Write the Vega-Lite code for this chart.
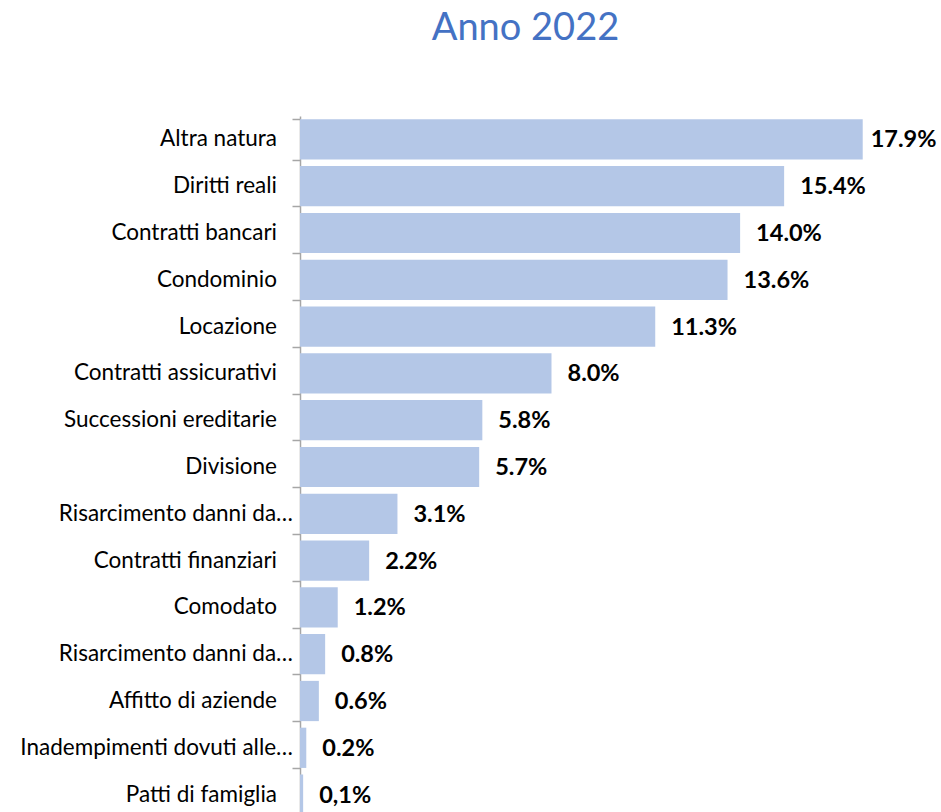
{
  "$schema": "https://vega.github.io/schema/vega-lite/v6.json",
  "autosize": {"type": "none"},
  "padding": {"left": 300, "top": 116, "right": 0, "bottom": 0},
  "width": 641,
  "height": 702,
  "background": "white",
  "title": {
    "text": "Anno 2022",
    "font": "Lato",
    "fontSize": 38,
    "fontWeight": "normal",
    "color": "#4472C4",
    "anchor": "middle",
    "offset": 68,
    "dx": -95
  },
  "data": {
    "values": [
      {"categoria": "Altra natura", "nome": "Altra natura", "troncato": false, "quota": 17.9, "etichetta": "17.9%"},
      {"categoria": "Diritti reali", "nome": "Diritti reali", "troncato": false, "quota": 15.4, "etichetta": "15.4%"},
      {"categoria": "Contratti bancari", "nome": "Contratti bancari", "troncato": false, "quota": 14.0, "etichetta": "14.0%"},
      {"categoria": "Condominio", "nome": "Condominio", "troncato": false, "quota": 13.6, "etichetta": "13.6%"},
      {"categoria": "Locazione", "nome": "Locazione", "troncato": false, "quota": 11.3, "etichetta": "11.3%"},
      {"categoria": "Contratti assicurativi", "nome": "Contratti assicurativi", "troncato": false, "quota": 8.0, "etichetta": "8.0%"},
      {"categoria": "Successioni ereditarie", "nome": "Successioni ereditarie", "troncato": false, "quota": 5.8, "etichetta": "5.8%"},
      {"categoria": "Divisione", "nome": "Divisione", "troncato": false, "quota": 5.7, "etichetta": "5.7%"},
      {"categoria": "Risarcimento danni da responsabilità medica", "nome": "Risarcimento danni da…", "troncato": true, "quota": 3.1, "etichetta": "3.1%"},
      {"categoria": "Contratti finanziari", "nome": "Contratti finanziari", "troncato": false, "quota": 2.2, "etichetta": "2.2%"},
      {"categoria": "Comodato", "nome": "Comodato", "troncato": false, "quota": 1.2, "etichetta": "1.2%"},
      {"categoria": "Risarcimento danni da diffamazione a mezzo stampa", "nome": "Risarcimento danni da…", "troncato": true, "quota": 0.8, "etichetta": "0.8%"},
      {"categoria": "Affitto di aziende", "nome": "Affitto di aziende", "troncato": false, "quota": 0.6, "etichetta": "0.6%"},
      {"categoria": "Inadempimenti dovuti alle misure Covid-19", "nome": "Inadempimenti dovuti alle…", "troncato": true, "quota": 0.2, "etichetta": "0.2%"},
      {"categoria": "Patti di famiglia", "nome": "Patti di famiglia", "troncato": false, "quota": 0.1, "etichetta": "0,1%"}
    ]
  },
  "encoding": {
    "y": {
      "field": "categoria",
      "type": "nominal",
      "sort": null,
      "scale": {"paddingInner": 0.14, "paddingOuter": 0.07},
      "axis": {
        "title": null,
        "labels": false,
        "domainColor": "#A6A6A6",
        "domainWidth": 1.5,
        "tickColor": "#A6A6A6",
        "tickWidth": 1.5,
        "tickSize": 8,
        "tickBand": "extent"
      }
    },
    "x": {
      "field": "quota",
      "type": "quantitative",
      "scale": {"domain": [0, 20.39], "nice": false},
      "axis": null
    }
  },
  "layer": [
    {
      "mark": {"type": "bar", "color": "#B4C7E7"}
    },
    {
      "transform": [{"filter": "!datum.troncato"}],
      "mark": {
        "type": "text",
        "align": "right",
        "baseline": "middle",
        "dx": -23,
        "font": "Lato",
        "fontSize": 22.5,
        "color": "#000000"
      },
      "encoding": {
        "x": {"datum": 0, "type": "quantitative"},
        "text": {"field": "nome"}
      }
    },
    {
      "transform": [{"filter": "datum.troncato"}],
      "mark": {
        "type": "text",
        "align": "right",
        "baseline": "middle",
        "dx": -7,
        "font": "Lato",
        "fontSize": 22.5,
        "color": "#000000"
      },
      "encoding": {
        "x": {"datum": 0, "type": "quantitative"},
        "text": {"field": "nome"}
      }
    },
    {
      "transform": [{"filter": "datum.quota < 17"}],
      "mark": {
        "type": "text",
        "align": "left",
        "baseline": "middle",
        "dx": 16,
        "dy": 1,
        "font": "Lato",
        "fontSize": 23.5,
        "fontWeight": "bold",
        "color": "#000000"
      },
      "encoding": {"text": {"field": "etichetta"}}
    },
    {
      "transform": [{"filter": "datum.quota >= 17"}],
      "mark": {
        "type": "text",
        "align": "left",
        "baseline": "middle",
        "dx": 8,
        "dy": 1,
        "font": "Lato",
        "fontSize": 23.5,
        "fontWeight": "bold",
        "color": "#000000"
      },
      "encoding": {"text": {"field": "etichetta"}}
    }
  ],
  "config": {"view": {"stroke": null}}
}
